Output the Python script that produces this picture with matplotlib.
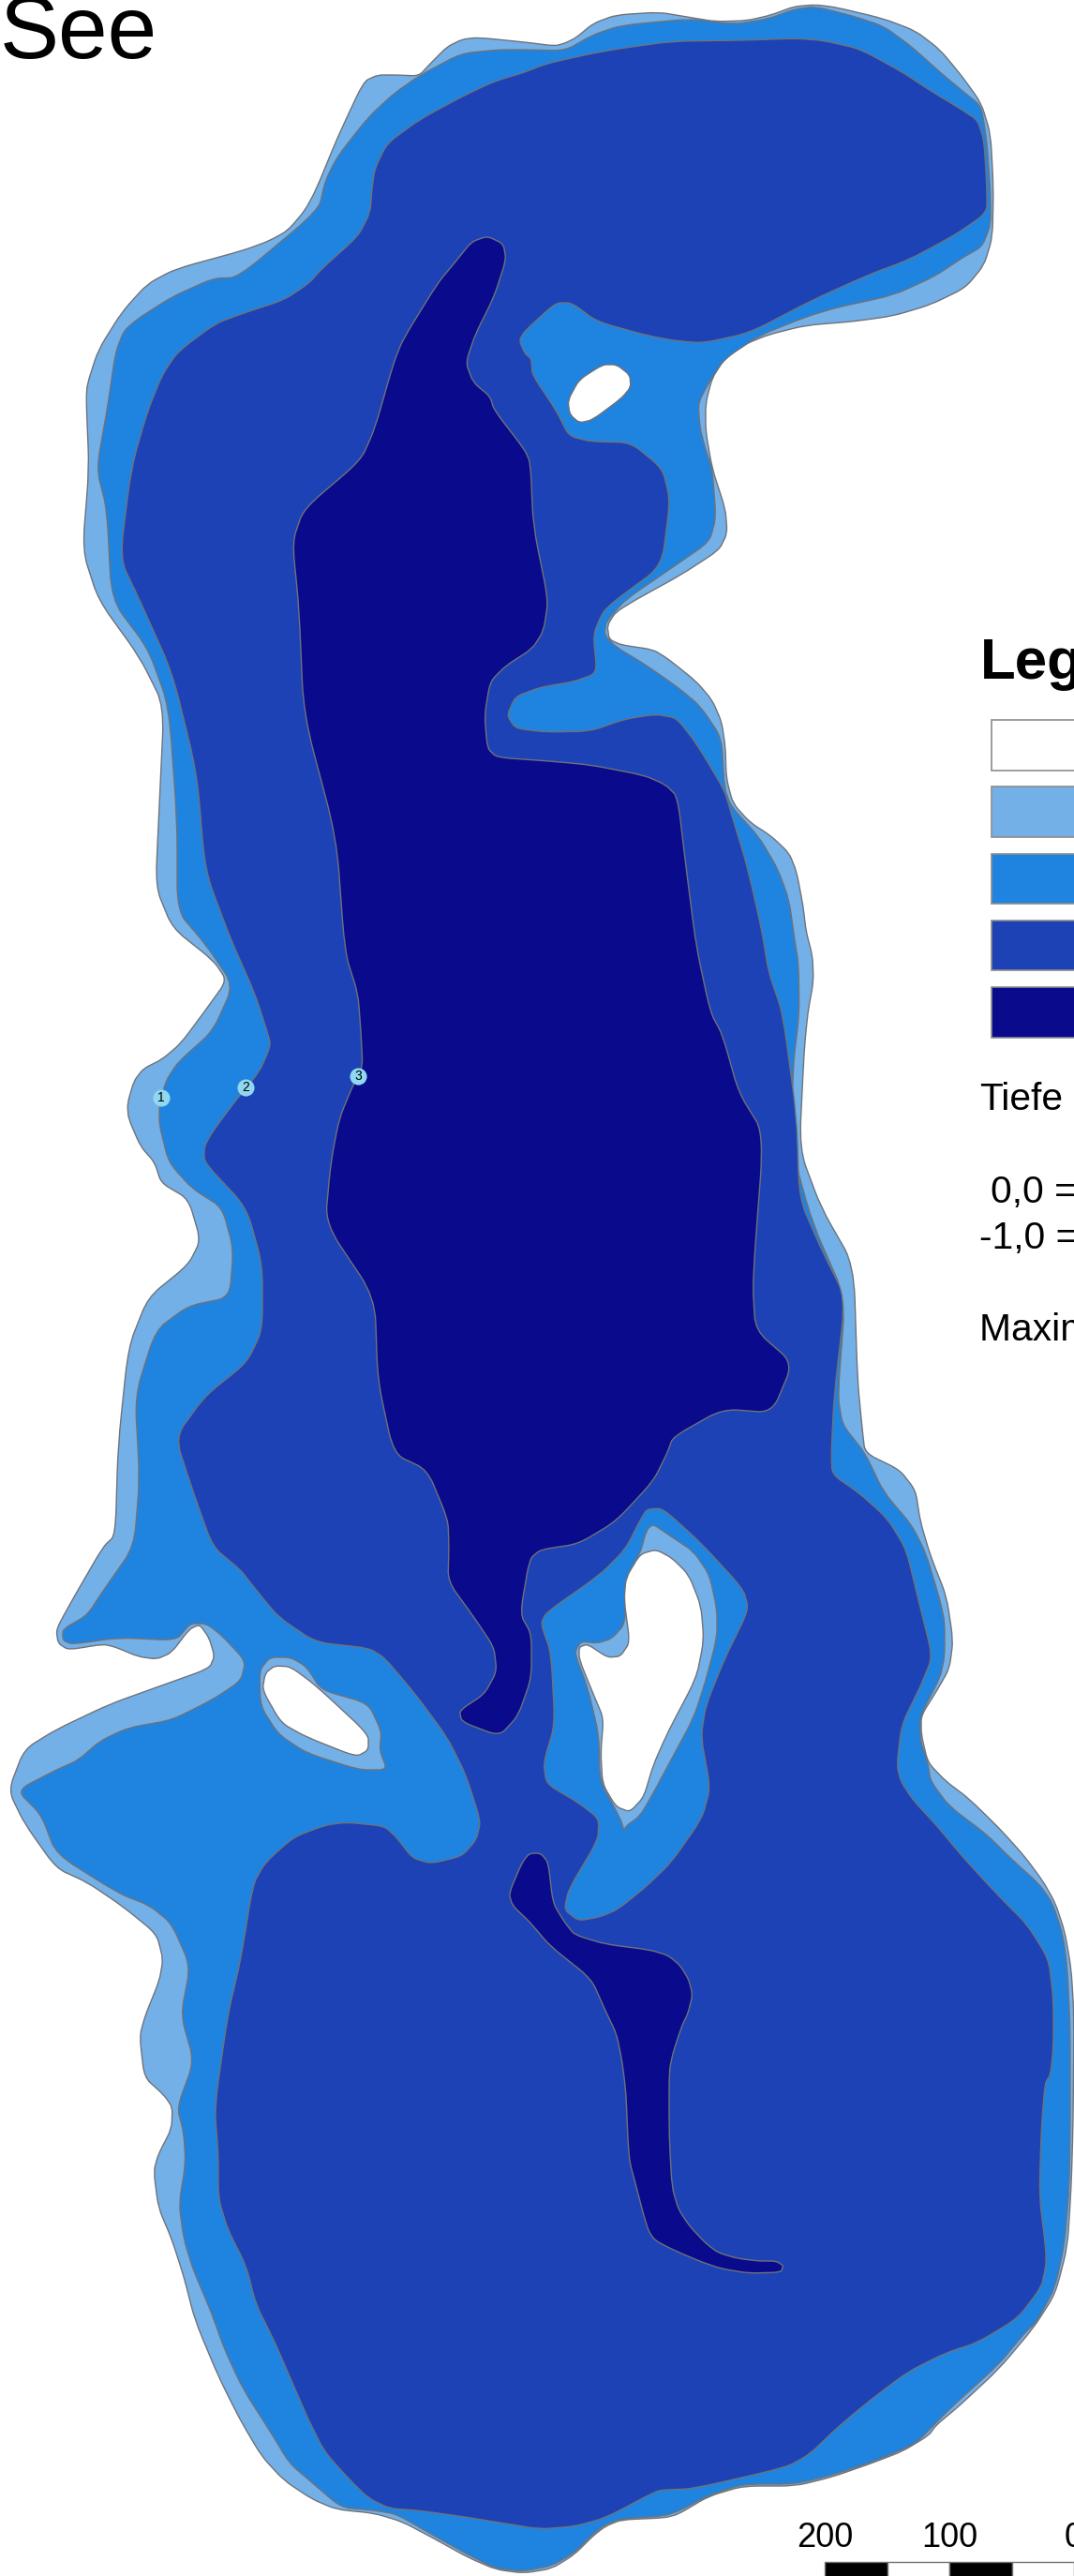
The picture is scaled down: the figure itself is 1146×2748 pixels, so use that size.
import matplotlib.pyplot as plt
import numpy as np
from matplotlib.patches import PathPatch, Rectangle
from matplotlib.path import Path

# outlines, in picture pixels
shore = [(388,87),(403,80),(423,80),(447,81),(460,67),(477,50),(493,42),(510,40),(560,45),(592,49),(603,46),(615,40),(633,25),(657,16),(703,13),(733,18),(763,23),(797,22),(823,16),(847,7),(870,5),(893,8),(943,20),(977,33),(1003,53),(1027,82),(1047,110),(1057,143),(1060,200),(1059,253),(1050,283),(1030,307),(993,325),(953,337),(910,343),(860,347),(820,357),(793,368),(773,383),(760,403),(753,430),(753,460),(760,500),(774,543),(776,569),(767,587),(727,613),(678,640),(657,653),(648,667),(650,682),(663,688),(697,693),(713,703),(743,727),(760,747),(770,770),(774,797),(775,830),(782,857),(800,877),(823,892),(842,910),(850,930),(857,967),(860,993),(867,1020),(868,1047),(862,1080),(858,1121),(853,1226),(876,1288),(911,1349),(915,1472),(920,1524),(923,1550),(960,1568),(977,1590),(982,1623),(993,1660),(1010,1703),(1017,1750),(1013,1780),(1000,1803),(983,1830),(983,1850),(990,1880),(1009,1900),(1033,1918),(1066,1950),(1093,1980),(1113,2007),(1126,2030),(1136,2060),(1143,2100),(1146,2150),(1145,2267),(1143,2333),(1139,2397),(1126,2447),(1103,2483),(1066,2527),(1023,2567),(999,2587),(991,2598),(963,2615),(929,2628),(889,2642),(849,2652),(793,2652),(756,2663),(724,2682),(709,2686),(663,2688),(646,2695),(633,2705),(613,2725),(589,2740),(559,2745),(529,2741),(499,2728),(463,2708),(429,2690),(399,2681),(359,2677),(333,2666),(303,2646),(279,2620),(256,2581),(233,2535),(208,2475),(196,2428),(183,2388),(169,2355),(164,2316),(169,2298),(183,2271),(184,2248),(175,2235),(154,2216),(149,2172),(155,2150),(170,2113),(174,2090),(167,2063),(130,2033),(93,2008),(60,1993),(26,1945),(9,1910),(26,1866),(60,1845),(117,1818),(167,1800),(223,1780),(229,1767),(223,1747),(213,1733),(202,1738),(183,1763),(167,1770),(147,1767),(123,1757),(110,1754),(73,1760),(62,1753),(60,1738),(77,1707),(110,1650),(123,1638),(126,1542),(137,1437),(158,1384),(201,1349),(214,1323),(201,1279),(172,1262),(165,1240),(150,1223),(137,1193),(136,1177),(143,1153),(153,1140),(173,1130),(193,1113),(219,1078),(242,1046),(228,1025),(184,990),(166,946),(170,859),(175,753),(149,701),(105,640),(88,587),(95,500),(92,427),(93,410),(105,373),(130,333),(157,303),(187,287),(260,267),(287,257),(307,246),(325,225),(337,203),(360,147)]

depth_1 = [(103,500),(115,433),(123,377),(132,353),(147,340),(183,317),(227,297),(254,296),(340,224),(347,193),(360,167),(393,125),(420,100),(447,81),(492,57),(533,53),(560,53),(603,54),(633,37),(663,27),(737,20),(783,26),(820,20),(847,10),(870,7),(910,17),(943,28),(973,50),(1003,77),(1027,97),(1047,113),(1053,150),(1057,207),(1057,240),(1048,263),(1027,275),(997,295),(953,315),(893,328),(860,338),(810,358),(773,383),(757,407),(745,430),(747,457),(753,480),(760,500),(764,552),(757,578),(718,605),(667,640),(647,663),(645,677),(657,690),(687,708),(723,733),(747,753),(770,787),(773,840),(780,860),(810,893),(830,927),(842,960),(848,1003),(852,1027),(853,1080),(846,1139),(845,1226),(867,1305),(902,1384),(894,1489),(899,1520),(923,1550),(943,1592),(973,1627),(988,1657),(1003,1707),(1008,1730),(1008,1767),(1003,1790),(982,1830),(982,1857),(990,1880),(993,1900),(1013,1927),(1053,1957),(1079,1983),(1109,2010),(1123,2030),(1134,2063),(1139,2100),(1142,2167),(1142,2267),(1141,2333),(1136,2393),(1126,2440),(1106,2477),(1094,2488),(1066,2522),(1013,2570),(979,2605),(963,2613),(929,2627),(889,2640),(849,2650),(793,2650),(756,2662),(726,2678),(709,2684),(663,2687),(646,2693),(633,2703),(613,2723),(589,2737),(559,2743),(529,2740),(499,2725),(463,2705),(423,2682),(399,2678),(364,2675),(329,2645),(309,2628),(289,2595),(259,2548),(239,2505),(226,2468),(206,2421),(196,2388),(191,2351),(198,2308),(196,2275),(189,2248),(207,2199),(193,2150),(203,2097),(183,2052),(160,2033),(127,2020),(60,1978),(44,1936),(18,1910),(60,1888),(83,1878),(107,1857),(137,1843),(183,1835),(227,1813),(257,1793),(262,1772),(237,1745),(220,1732),(203,1732),(188,1750),(127,1747),(77,1754),(67,1750),(67,1738),(93,1723),(110,1697),(143,1650),(149,1577),(144,1489),(166,1419),(201,1393),(245,1384),(249,1332),(237,1288),(205,1268),(180,1240),(170,1200),(170,1180),(177,1153),(190,1133),(227,1100),(249,1051),(219,1007),(189,972),(189,876),(180,753),(158,692),(119,640),(114,543)]

depth_2 = [(140,500),(157,440),(173,400),(190,375),(230,345),(263,333),(303,320),(330,302),(343,287),(382,252),(395,227),(397,200),(400,180),(413,153),(447,128),(493,103),(527,87),(560,77),(583,68),(627,58),(660,52),(717,44),(793,43),(847,41),(877,43),(917,52),(963,77),(990,95),(1023,115),(1043,128),(1050,150),(1053,200),(1053,227),(1020,250),(970,277),(927,293),(867,320),(800,355),(750,366),(717,363),(687,357),(637,343),(610,323),(593,323),(560,353),(554,363),(560,377),(567,383),(568,400),(593,437),(607,465),(630,471),(673,472),(707,500),(715,534),(706,604),(657,640),(643,653),(633,677),(637,718),(613,727),(577,733),(550,743),(541,763),(550,777),(583,781),(630,780),(667,767),(700,762),(722,766),(743,793),(773,843),(780,867),(797,923),(813,993),(820,1037),(835,1080),(850,1191),(853,1279),(876,1332),(902,1384),(890,1489),(887,1550),(888,1573),(917,1593),(947,1620),(967,1653),(980,1707),(995,1767),(983,1797),(962,1840),(957,1883),(961,1900),(974,1920),(999,1947),(1029,1983),(1066,2023),(1096,2053),(1119,2090),(1124,2133),(1124,2183),(1121,2213),(1115,2222),(1111,2273),(1109,2343),(1116,2400),(1116,2417),(1111,2440),(1086,2473),(1043,2499),(1009,2510),(969,2530),(929,2560),(893,2590),(864,2618),(839,2632),(739,2655),(709,2656),(699,2658),(646,2686),(613,2695),(576,2698),(533,2691),(496,2685),(446,2678),(416,2676),(393,2665),(369,2641),(346,2615),(329,2581),(309,2535),(293,2498),(273,2458),(263,2418),(243,2378),(233,2345),(233,2298),(229,2248),(243,2150),(257,2090),(270,2010),(283,1987),(313,1960),(347,1947),(370,1944),(410,1948),(423,1960),(440,1982),(460,1988),(493,1980),(508,1963),(513,1943),(497,1893),(477,1853),(443,1807),(410,1768),(393,1758),(337,1752),(297,1725),(270,1692),(257,1675),(227,1650),(207,1594),(187,1533),(219,1489),(263,1454),(280,1419),(280,1349),(263,1288),(218,1240),(218,1223),(227,1207),(253,1172),(277,1143),(289,1115),(285,1100),(272,1060),(245,999),(219,929),(210,824),(184,718),(149,640),(128,596)]

deep_north = [(503,258),(520,252),(537,260),(540,277),(527,317),(507,357),(497,387),(505,408),(523,423),(527,437),(560,480),(566,494),(569,561),(585,640),(580,673),(568,692),(540,710),(523,727),(517,763),(520,798),(530,808),(587,812),(630,816),(687,827),(710,837),(723,850),(733,933),(743,1010),(758,1080),(771,1104),(788,1165),(815,1209),(803,1367),(806,1419),(846,1454),(824,1507),(771,1503),(718,1533),(712,1550),(697,1580),(657,1623),(617,1647),(577,1653),(565,1663),(555,1722),(567,1743),(567,1790),(553,1830),(533,1852),(493,1837),(490,1825),(517,1807),(530,1783),(527,1757),(507,1727),(478,1687),(479,1650),(478,1621),(456,1568),(420,1551),(403,1472),(400,1384),(347,1305),(353,1240),(362,1193),(377,1157),(387,1138),(385,1100),(382,1060),(368,1016),(359,894),(324,762),(319,648),(312,578),(324,543),(385,491),(400,457),(420,387),(430,362),(467,302),(487,278)]
deep_south = [(557,1987),(565,1977),(577,1977),(585,1987),(590,2030),(602,2050),(613,2064),(646,2074),(693,2080),(713,2086),(726,2097),(735,2112),(739,2128),(734,2148),(728,2160),(718,2190),(714,2210),(714,2277),(717,2333),(724,2357),(736,2375),(753,2393),(766,2403),(786,2409),(809,2412),(828,2412),(836,2417),(833,2424),(799,2425),(769,2420),(746,2412),(716,2399),(699,2390),(692,2380),(686,2360),(679,2333),(672,2307),(670,2283),(668,2233),(664,2200),(658,2170),(646,2145),(631,2111),(587,2076),(565,2050),(547,2033),(543,2020)]

bank_mid = [(683,1622),(690,1610),(707,1609),(747,1645),(793,1695),(799,1717),(773,1770),(753,1820),(748,1853),(758,1907),(749,1940),(716,1987),(689,2013),(659,2037),(640,2045),(617,2049),(602,2037),(607,2015),(638,1963),(639,1940),(617,1923),(583,1903),(580,1880),(592,1840),(588,1763),(577,1732),(583,1720),(640,1680),(667,1653)]
bank_light = [(690,1632),(697,1626),(713,1637),(740,1655),(757,1680),(765,1717),(765,1747),(753,1793),(740,1833),(713,1883),(697,1913),(683,1937),(668,1948),(666,1953),(662,1940),(640,1900),(639,1850),(627,1800),(613,1763),(620,1751),(637,1753),(653,1748),(667,1732),(668,1683),(683,1657)]
bank_west = [(277,1782),(288,1768),(310,1768),(327,1778),(343,1803),(393,1817),(407,1847),(405,1867),(413,1888),(383,1888),(327,1870),(297,1850),(278,1820)]

island_east = [(700,1653),(717,1662),(735,1680),(748,1713),(751,1750),(743,1790),(713,1847),(697,1883),(687,1917),(672,1933),(657,1927),(643,1903),(641,1870),(644,1833),(633,1807),(618,1770),(618,1757),(627,1754),(648,1768),(662,1767),(672,1752),(666,1707),(668,1683),(683,1658)]
island_west = [(293,1777),(310,1778),(337,1798),(393,1850),(393,1867),(380,1874),(327,1853),(300,1838),(280,1803),(283,1785)]
island_north = [(643,389),(658,389),(672,400),(673,413),(663,425),(632,448),(618,451),(608,442),(606,427),(618,405)]

legend_colors = ["#ffffff", "#74b0e8", "#1f84e0", "#1c42b5", "#0a0a8c"]
station_labels = ["1", "2", "3"]
station_x = [172, 262, 382]
station_y = [1171, 1160, 1148]
scale_ticks = [200, 100, 0]
scale_edges = [200, 150, 100, 50, 0]

LINE = "#6f7278"

plt.rcParams["font.family"] = ["Liberation Sans", "DejaVu Sans"]


def smooth_patch(points, color):
    # keeps the edges straight, only the corners get rounded off
    pts = np.array(points, dtype=float)
    nxt = np.roll(pts, -1, axis=0)
    head = pts + 0.3 * (nxt - pts)
    tail = pts + 0.7 * (nxt - pts)
    verts = [tail[-1]]
    codes = [Path.MOVETO]
    for p, a, b in zip(pts, head, tail):
        verts += [p, a, b]
        codes += [Path.CURVE3, Path.CURVE3, Path.LINETO]
    return PathPatch(Path(verts, codes), facecolor=color, edgecolor=LINE, lw=1.0)


fig = plt.figure(figsize=(11.46, 27.48), dpi=100)
ax = fig.add_axes([0, 0, 1, 1])
ax.set_xlim(0, 1146)
ax.set_ylim(2748, 0)
ax.axis("off")

layers = [
    (shore, legend_colors[1]),
    (depth_1, legend_colors[2]),
    (depth_2, legend_colors[3]),
    (deep_north, legend_colors[4]),
    (deep_south, legend_colors[4]),
    (bank_mid, legend_colors[2]),
    (bank_light, legend_colors[1]),
    (bank_west, legend_colors[1]),
    (island_east, "white"),
    (island_west, "white"),
    (island_north, "white"),
]
for outline, color in layers:
    ax.add_patch(smooth_patch(outline, color))

ax.scatter(station_x, station_y, s=170, color="#8fd8f0", linewidths=0, zorder=5)
for label, x, y in zip(station_labels, station_x, station_y):
    ax.text(x, y, label, fontsize=10, ha="center", va="center", zorder=6)

ax.text(0, 62, "See", fontsize=68, va="baseline", clip_on=True)

# legend runs off the right edge of the picture
ax.text(1046, 724, "Legende", fontsize=44.5, fontweight="bold", clip_on=True)
for i, color in enumerate(legend_colors):
    ax.add_patch(Rectangle((1058, 768 + i * 71.3), 120, 53.5, facecolor=color, edgecolor="#8c8c8c", lw=1.2))
ax.text(1045, 1184, "Tiefe", fontsize=29.3, clip_on=True)
ax.text(1057, 1283, "0,0 =", fontsize=29.3, clip_on=True)
ax.text(1045, 1332, "-1,0 =", fontsize=29.3, clip_on=True)
ax.text(1045, 1430, "Maximale Tiefe", fontsize=29.3, clip_on=True)

# scale bar, metres
px_per_m = 1.33
for i, (start, end) in enumerate(zip(scale_edges[:-1], scale_edges[1:])):
    x0 = 1146 - start * px_per_m
    x1 = 1146 - end * px_per_m
    ax.add_patch(Rectangle((x0, 2733), x1 - x0, 20, facecolor="black" if i % 2 == 0 else "white", edgecolor="#707070", lw=1))
for tick in scale_ticks:
    x = 1146 - tick * px_per_m
    ax.text(x, 2717, str(tick), fontsize=26, ha="center", clip_on=True)

fig.savefig("out.png", dpi=100)
